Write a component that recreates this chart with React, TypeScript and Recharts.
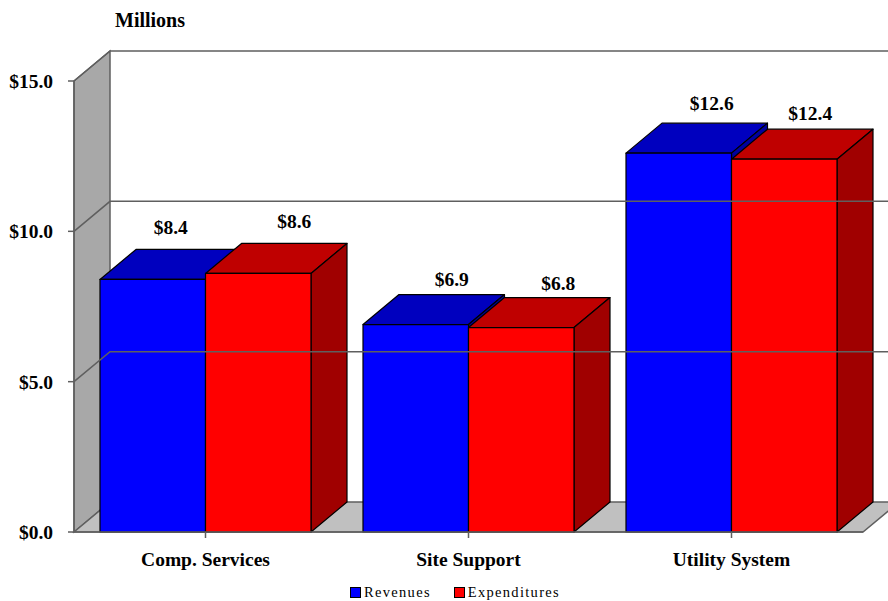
import { BarChart, Bar, XAxis, YAxis, ReferenceArea, ReferenceLine, Legend } from 'recharts';

const categories = ['Comp. Services', 'Site Support', 'Utility System'];
const revenues = [8.4, 6.9, 12.6];
const expenditures = [8.6, 6.8, 12.4];
const yTicks = [0, 5, 10, 15];

// label nudges, the original placed these by hand
const revenueLabelShift = [[18, -52], [36, -45], [33, -50]];
const expenditureLabelShift = [[36, -52], [37, -44], [26, -46]];

const data = categories.map((name, i) => ({ name, revenues: revenues[i], expenditures: expenditures[i] }));

const DX = 36;
const DY = -30;
const FONT = '"Liberation Serif", "Times New Roman", serif';
const LINE = '#5f5f5f';
const TEXT_SIZE = 19.5;

const pts = (list: number[][]) => list.map((p) => p.join(',')).join(' ');

// front face + top + side, like an old 3D column
const Box3D = (colors: { front: string; top: string; side: string }) => (props: any) => {
  const { x, y, width, height } = props;
  return (
    <g stroke="#000" strokeWidth={1.2} strokeLinejoin="round">
      <polygon fill={colors.top} points={pts([[x, y], [x + DX, y + DY], [x + width + DX, y + DY], [x + width, y]])} />
      <polygon fill={colors.side} points={pts([[x + width, y], [x + width + DX, y + DY], [x + width + DX, y + height + DY], [x + width, y + height]])} />
      <rect x={x} y={y} width={width} height={height} fill={colors.front} />
    </g>
  );
};

const Walls = (props: any) => {
  const { x, y, width, height } = props;
  const bottom = y + height;
  return (
    <g>
      <polygon fill="#a8a8a8" stroke={LINE} strokeWidth={1.5} points={pts([[x, y], [x + DX, y + DY], [x + DX, bottom + DY], [x, bottom]])} />
      <polygon fill="#c0c0c0" stroke={LINE} strokeWidth={1.5} points={pts([[x, bottom], [x + DX, bottom + DY], [x + width + DX, bottom + DY], [x + width, bottom]])} />
    </g>
  );
};

const WallLine = (props: any) => {
  const { x1, y1, x2, y2 } = props;
  return (
    <polyline fill="none" stroke={LINE} strokeWidth={1.5} points={pts([[x1, y1], [x1 + DX, y1 + DY], [x2 + DX, y2 + DY]])} />
  );
};

const barLabel = (shift: number[][]) => (props: any) => {
  const { x, y, width, value, index } = props;
  return (
    <text
      x={x + width / 2 + shift[index][0]}
      y={y + shift[index][1]}
      textAnchor="middle"
      dominantBaseline="central"
      fontFamily={FONT}
      fontWeight="bold"
      fontSize={TEXT_SIZE}
      fill="#000"
    >
      {`$${value.toFixed(1)}`}
    </text>
  );
};

const LegendRow = ({ payload }: any) => (
  <div style={{ display: 'flex', justifyContent: 'center', gap: 23, fontFamily: FONT, fontSize: 14.5, letterSpacing: 1.3 }}>
    {(payload || []).map((entry: any) => (
      <span key={entry.value} style={{ display: 'flex', alignItems: 'center', color: '#000' }}>
        <span style={{ display: 'inline-block', width: 9, height: 9, background: entry.color, border: '1px solid #000', marginRight: 3 }} />
        {entry.value}
      </span>
    ))}
  </div>
);

export default function App() {
  return (
    <div style={{ position: 'absolute', left: 0, top: 0, width: 888, height: 601 }}>
      <div style={{ position: 'absolute', left: 115, top: 10, fontFamily: FONT, fontWeight: 'bold', fontSize: 20, lineHeight: '21px' }}>
        Millions
      </div>
      <BarChart
        width={888}
        height={601}
        data={data}
        margin={{ top: 81, right: 25, bottom: 0, left: 0 }}
        barSize={105.5}
        barGap={0}
      >
        <ReferenceArea y1={0} y2={15} shape={Walls} ifOverflow="visible" />
        {yTicks.slice(1).map((v) => (
          <ReferenceLine key={v} y={v} shape={WallLine} ifOverflow="visible" />
        ))}
        <XAxis
          dataKey="name"
          height={69}
          axisLine={{ stroke: LINE, strokeWidth: 1.5 }}
          tickLine={{ stroke: LINE, strokeWidth: 1.5 }}
          tickSize={6}
          tickMargin={14}
          interval={0}
          tick={{ fontFamily: FONT, fontWeight: 'bold', fontSize: TEXT_SIZE, fill: '#000' }}
        />
        <YAxis
          width={74}
          domain={[0, 15]}
          ticks={yTicks}
          tickFormatter={(v: number) => `$${v.toFixed(1)}`}
          axisLine={{ stroke: LINE, strokeWidth: 1.5 }}
          tickLine={{ stroke: LINE, strokeWidth: 1.5 }}
          tickSize={6}
          tickMargin={15}
          tick={{ fontFamily: FONT, fontWeight: 'bold', fontSize: TEXT_SIZE, fill: '#000' }}
        />
        <Legend
          layout="horizontal"
          verticalAlign="middle"
          align="center"
          itemSorter={null}
          content={<LegendRow />}
          wrapperStyle={{ top: 584, left: 0, width: 910, height: 18 }}
        />
        <Bar
          dataKey="revenues"
          name="Revenues"
          fill="#0000ff"
          isAnimationActive={false}
          shape={Box3D({ front: '#0000ff', top: '#0000bf', side: '#0000a0' })}
          label={barLabel(revenueLabelShift)}
        />
        <Bar
          dataKey="expenditures"
          name="Expenditures"
          fill="#ff0000"
          isAnimationActive={false}
          shape={Box3D({ front: '#ff0000', top: '#bf0000', side: '#a00000' })}
          label={barLabel(expenditureLabelShift)}
        />
      </BarChart>
    </div>
  );
}
